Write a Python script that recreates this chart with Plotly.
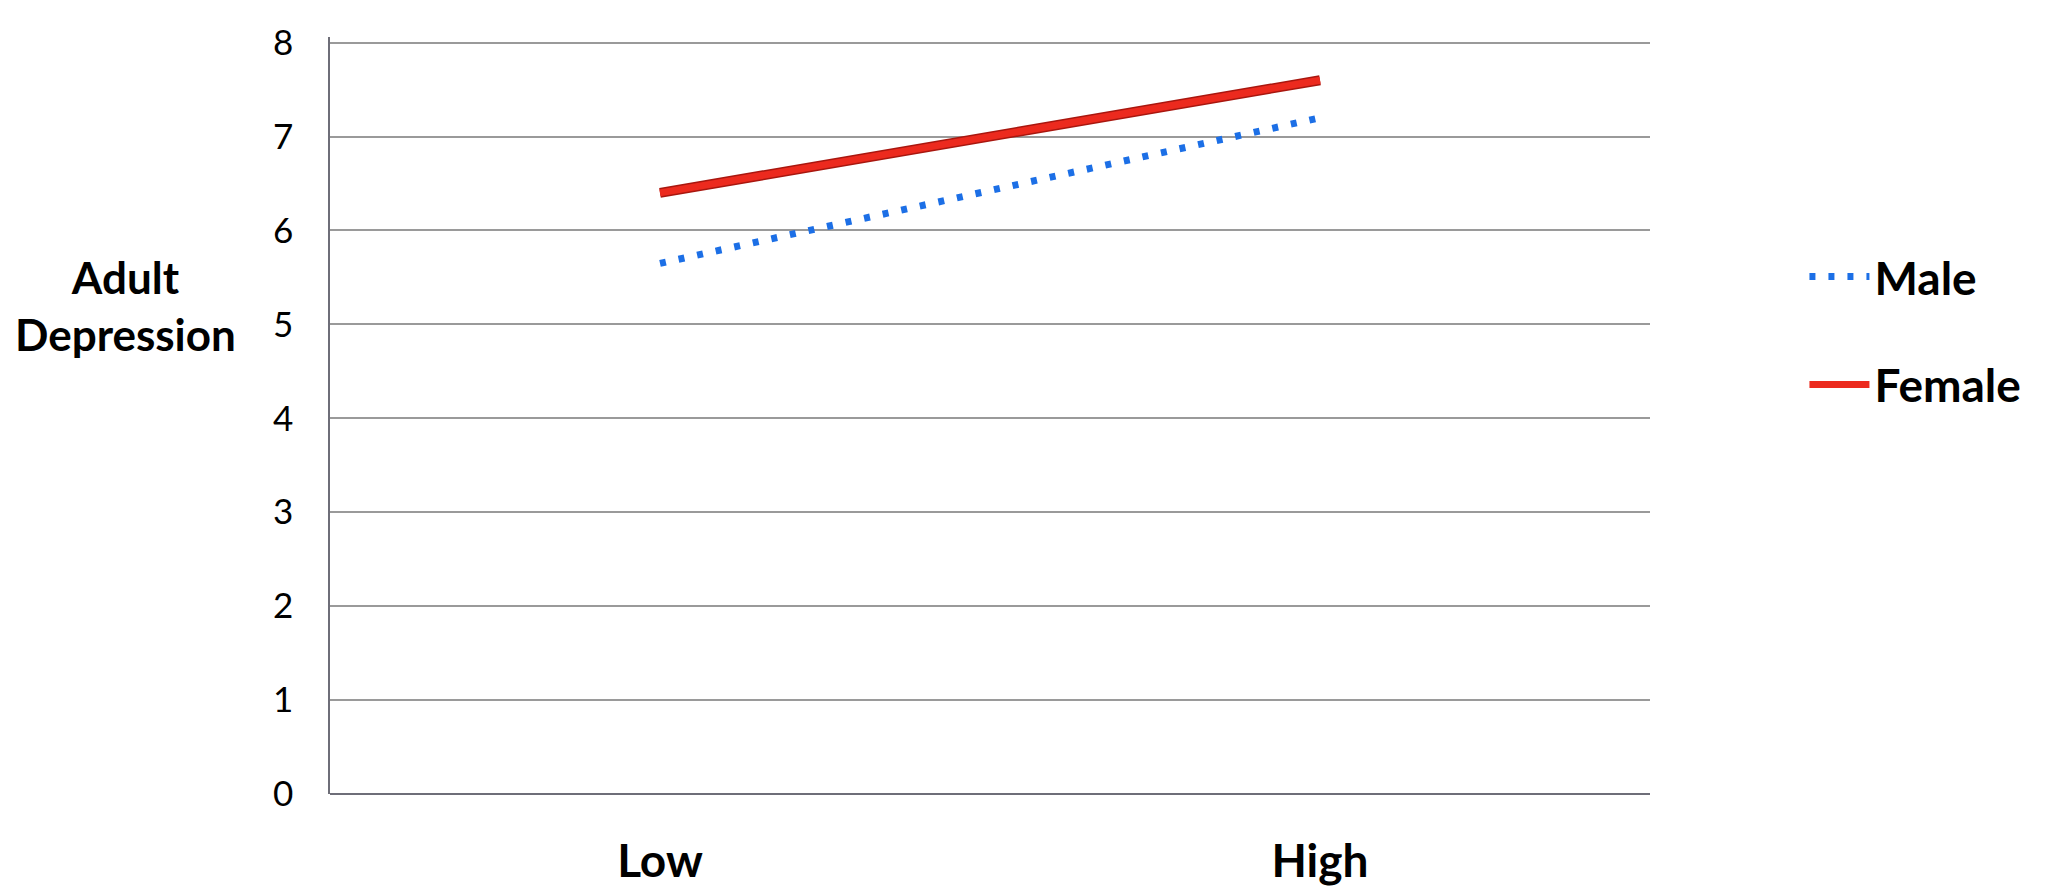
import plotly.graph_objects as go

# chart data
levels = ["Low", "High"]
male_vals = [5.65, 7.2]
female_vals = [6.4, 7.6]
y_ticks = [0, 1, 2, 3, 4, 5, 6, 7, 8]

FONT = "Lato"

fig = go.Figure()

# darker rim under the red line, gives it the bevelled look
fig.add_trace(go.Scatter(x=levels, y=female_vals, mode="lines",
                         line=dict(color="#A8170F", width=10),
                         showlegend=False, hoverinfo="skip"))
fig.add_trace(go.Scatter(x=levels, y=male_vals, mode="lines", name="Male",
                         legendgroup="m",
                         line=dict(color="#1C6FE6", width=7, dash="6px,13px")))
fig.add_trace(go.Scatter(x=levels, y=female_vals, mode="lines", name="Female",
                         legendgroup="f",
                         line=dict(color="#EC2A1E", width=7)))

fig.update_layout(
    width=2046, height=896,
    margin=dict(l=322, r=404, t=18, b=110),
    paper_bgcolor="white", plot_bgcolor="white",
    font=dict(family=FONT, color="black"),
    legend=dict(x=1.117, y=0.612, xanchor="left", yanchor="middle",
                font=dict(family=FONT, size=46, color="black", weight="bold"),
                tracegroupgap=45, itemwidth=60),
)

fig.update_xaxes(
    type="category", range=[-0.5, 1.5],
    showgrid=False, showline=False, zeroline=False,
    ticks="", ticklabelstandoff=36,
    tickfont=dict(family=FONT, size=46, color="black", weight="bold"),
)
fig.update_yaxes(
    range=[0, 8.06], tickvals=y_ticks,
    showgrid=True, gridcolor="#9A9A9A", gridwidth=1.5,
    zeroline=True, zerolinecolor="#6E6E78", zerolinewidth=2,
    showline=True, linecolor="#6E6E78", linewidth=1.5,
    ticks="", ticklabelstandoff=28, ticklabeloverflow="allow",
    tickfont=dict(family=FONT, size=35, color="black"),
)

fig.add_annotation(text="Adult<br>Depression", xref="paper", yref="paper",
                   x=-0.155, y=0.645, xanchor="center", yanchor="middle",
                   showarrow=False, align="center",
                   font=dict(family=FONT, size=44, color="black", weight="bold"))

fig.write_html("out.html")
